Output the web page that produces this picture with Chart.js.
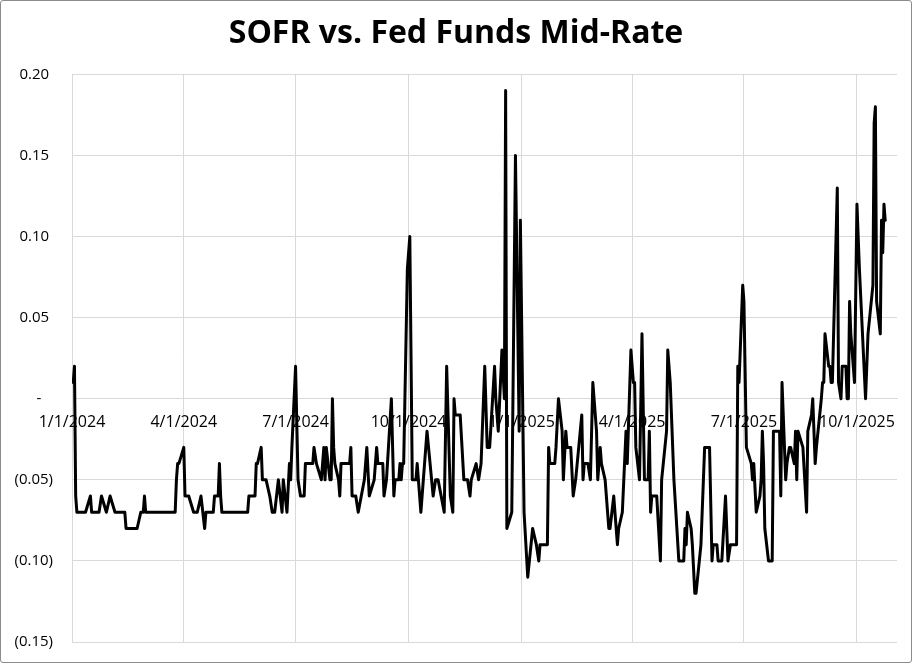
<!DOCTYPE html>
<html>
<head>
<meta charset="utf-8">
<script src="https://cdn.jsdelivr.net/npm/chart.js@4.4.1/dist/chart.umd.min.js"></script>
<style>
  body { margin: 0; background: #fff; }
  #wrap { width: 912px; height: 663px; box-sizing: border-box; border: 1px solid #8c8c8c; border-radius: 3px; overflow: hidden; }
  canvas { display: block; }
</style>
</head>
<body>
<div id="wrap"><canvas id="spreadChart" width="910" height="661"></canvas></div>
<script>
// SOFR minus Fed Funds mid-rate
const dates = [
    '2024-01-02', '2024-01-03', '2024-01-04', '2024-01-05', '2024-01-12', '2024-01-16', '2024-01-17', '2024-01-23',
    '2024-01-25', '2024-01-29', '2024-02-01', '2024-02-05', '2024-02-13', '2024-02-14', '2024-02-23', '2024-02-26',
    '2024-02-28', '2024-02-29', '2024-03-01', '2024-03-25', '2024-03-26', '2024-03-27', '2024-03-28', '2024-04-01',
    '2024-04-02', '2024-04-05', '2024-04-09', '2024-04-12', '2024-04-15', '2024-04-18', '2024-04-19', '2024-04-25',
    '2024-04-26', '2024-04-29', '2024-04-30', '2024-05-01', '2024-05-02', '2024-05-23', '2024-05-24', '2024-05-29',
    '2024-05-30', '2024-05-31', '2024-06-03', '2024-06-04', '2024-06-07', '2024-06-10', '2024-06-12', '2024-06-14',
    '2024-06-17', '2024-06-20', '2024-06-21', '2024-06-24', '2024-06-26', '2024-06-27', '2024-06-28', '2024-07-01',
    '2024-07-03', '2024-07-05', '2024-07-08', '2024-07-09', '2024-07-15', '2024-07-16', '2024-07-18', '2024-07-22',
    '2024-07-24', '2024-07-25', '2024-07-26', '2024-07-29', '2024-07-30', '2024-07-31', '2024-08-01', '2024-08-02',
    '2024-08-05', '2024-08-06', '2024-08-07', '2024-08-14', '2024-08-15', '2024-08-16', '2024-08-19', '2024-08-21',
    '2024-08-26', '2024-08-28', '2024-08-30', '2024-09-03', '2024-09-05', '2024-09-06', '2024-09-10', '2024-09-11',
    '2024-09-13', '2024-09-17', '2024-09-19', '2024-09-20', '2024-09-23', '2024-09-24', '2024-09-25', '2024-09-26',
    '2024-09-27', '2024-09-30', '2024-10-02', '2024-10-04', '2024-10-07', '2024-10-08', '2024-10-11', '2024-10-16',
    '2024-10-21', '2024-10-23', '2024-10-25', '2024-10-30', '2024-11-01', '2024-11-04', '2024-11-06', '2024-11-07',
    '2024-11-08', '2024-11-12', '2024-11-15', '2024-11-18', '2024-11-20', '2024-11-21', '2024-11-25', '2024-11-27',
    '2024-11-29', '2024-12-02', '2024-12-04', '2024-12-06', '2024-12-10', '2024-12-11', '2024-12-13', '2024-12-16',
    '2024-12-18', '2024-12-19', '2024-12-20', '2024-12-24', '2024-12-27', '2024-12-30', '2024-12-31',
    '2025-01-03', '2025-01-06', '2025-01-10', '2025-01-13', '2025-01-15', '2025-01-16', '2025-01-22', '2025-01-23',
    '2025-01-24', '2025-01-28', '2025-01-29', '2025-01-31', '2025-02-03', '2025-02-04', '2025-02-06', '2025-02-07',
    '2025-02-10', '2025-02-12', '2025-02-14', '2025-02-19', '2025-02-20', '2025-02-21', '2025-02-24', '2025-02-26',
    '2025-02-28', '2025-03-03', '2025-03-04', '2025-03-06', '2025-03-07', '2025-03-10', '2025-03-13', '2025-03-14',
    '2025-03-17', '2025-03-20', '2025-03-21', '2025-03-24', '2025-03-27', '2025-03-28', '2025-03-31', '2025-04-02',
    '2025-04-03', '2025-04-04', '2025-04-07', '2025-04-09', '2025-04-11', '2025-04-14', '2025-04-15', '2025-04-16',
    '2025-04-17', '2025-04-21', '2025-04-24', '2025-04-25', '2025-04-29', '2025-04-30', '2025-05-02', '2025-05-05',
    '2025-05-09', '2025-05-13', '2025-05-14', '2025-05-15', '2025-05-16', '2025-05-19', '2025-05-20', '2025-05-22',
    '2025-05-23', '2025-05-27', '2025-05-29', '2025-05-30', '2025-06-03', '2025-06-05', '2025-06-06', '2025-06-09',
    '2025-06-10', '2025-06-13', '2025-06-16', '2025-06-18', '2025-06-20', '2025-06-25', '2025-06-26', '2025-06-27',
    '2025-06-30', '2025-07-01', '2025-07-03', '2025-07-07', '2025-07-08', '2025-07-09', '2025-07-11', '2025-07-14',
    '2025-07-15', '2025-07-16', '2025-07-17', '2025-07-18', '2025-07-21', '2025-07-24', '2025-07-25', '2025-07-30',
    '2025-07-31', '2025-08-01', '2025-08-04', '2025-08-05', '2025-08-07', '2025-08-08', '2025-08-11', '2025-08-12',
    '2025-08-13', '2025-08-14', '2025-08-18', '2025-08-21', '2025-08-22', '2025-08-25', '2025-08-26', '2025-08-28',
    '2025-08-29', '2025-09-02', '2025-09-03', '2025-09-04', '2025-09-05', '2025-09-08', '2025-09-09', '2025-09-10',
    '2025-09-11', '2025-09-15', '2025-09-16', '2025-09-18', '2025-09-19', '2025-09-22', '2025-09-23', '2025-09-24',
    '2025-09-25', '2025-09-26', '2025-09-29', '2025-10-01', '2025-10-03', '2025-10-08', '2025-10-10', '2025-10-14',
    '2025-10-15', '2025-10-16', '2025-10-17', '2025-10-20', '2025-10-21', '2025-10-22', '2025-10-23', '2025-10-24'
];
const spread = [
    0.01, 0.02, -0.06, -0.07, -0.07, -0.06, -0.07, -0.07,
    -0.06, -0.07, -0.06, -0.07, -0.07, -0.08, -0.08, -0.07,
    -0.07, -0.06, -0.07, -0.07, -0.05, -0.04, -0.04, -0.03,
    -0.06, -0.06, -0.07, -0.07, -0.06, -0.08, -0.07, -0.07,
    -0.06, -0.06, -0.04, -0.06, -0.07, -0.07, -0.06, -0.06,
    -0.04, -0.04, -0.03, -0.05, -0.05, -0.06, -0.07, -0.07,
    -0.05, -0.07, -0.05, -0.07, -0.04, -0.05, -0.03, 0.02,
    -0.05, -0.06, -0.06, -0.04, -0.04, -0.03, -0.04, -0.05,
    -0.03, -0.05, -0.03, -0.05, -0.05, 0.00, -0.03, -0.04,
    -0.05, -0.06, -0.04, -0.04, -0.03, -0.06, -0.06, -0.07,
    -0.05, -0.03, -0.06, -0.05, -0.03, -0.04, -0.04, -0.06,
    -0.05, 0.00, -0.06, -0.05, -0.05, -0.04, -0.05, -0.04,
    -0.04, 0.08, 0.10, -0.05, -0.05, -0.04, -0.07, -0.02,
    -0.06, -0.05, -0.05, -0.07, 0.02, -0.06, -0.07, 0.00,
    -0.01, -0.01, -0.05, -0.05, -0.06, -0.05, -0.04, -0.05,
    -0.04, 0.02, -0.03, -0.03, 0.02, 0.00, -0.02, 0.03,
    0.00, 0.19, -0.08, -0.07, 0.15, -0.02, 0.11,
    -0.07, -0.11, -0.08, -0.09, -0.10, -0.09, -0.09, -0.03,
    -0.04, -0.04, -0.03, 0.00, -0.02, -0.05, -0.02, -0.03,
    -0.03, -0.06, -0.05, -0.01, -0.05, -0.04, -0.04, -0.05,
    0.01, -0.02, -0.05, -0.03, -0.04, -0.05, -0.08, -0.08,
    -0.06, -0.09, -0.08, -0.07, -0.02, -0.04, 0.03, 0.01,
    0.01, -0.03, -0.05, 0.04, -0.05, -0.05, -0.02, -0.07,
    -0.06, -0.06, -0.10, -0.05, -0.02, 0.03, 0.01, -0.05,
    -0.10, -0.10, -0.08, -0.09, -0.07, -0.08, -0.09, -0.12,
    -0.12, -0.09, -0.05, -0.03, -0.03, -0.10, -0.09, -0.09,
    -0.10, -0.10, -0.06, -0.10, -0.09, -0.09, 0.02, 0.01,
    0.07, 0.06, -0.03, -0.04, -0.05, -0.04, -0.07, -0.06,
    -0.05, -0.02, -0.04, -0.08, -0.10, -0.10, -0.02, -0.02,
    -0.06, 0.01, -0.05, -0.04, -0.03, -0.03, -0.04, -0.02,
    -0.05, -0.02, -0.03, -0.07, -0.02, -0.01, 0.00, -0.04,
    -0.03, 0.00, 0.01, 0.01, 0.04, 0.02, 0.02, 0.01,
    0.01, 0.13, 0.01, 0.00, 0.02, 0.02, 0.00, 0.00,
    0.06, 0.04, 0.01, 0.12, 0.08, 0.00, 0.04, 0.07,
    0.17, 0.18, 0.06, 0.04, 0.11, 0.09, 0.12, 0.11
];
// quarter starts shown on the date axis
const tickDates = ['2024-01-01', '2024-04-01', '2024-07-01', '2024-10-01', '2025-01-01', '2025-04-01', '2025-07-01', '2025-10-01'];

const DAY = 86400000;
const BASE = Date.UTC(2024, 0, 1);

function dayNum(s) {
    const p = s.split('-').map(Number);
    return (Date.UTC(p[0], p[1] - 1, p[2]) - BASE) / DAY;
}

function dayLabel(v) {
    const d = new Date(BASE + Math.round(v) * DAY);
    return (d.getUTCMonth() + 1) + '/' + d.getUTCDate() + '/' + d.getUTCFullYear();
}

// accounting style: (0.05) for negatives, dash for zero, trailing room on positives
function rateLabel(v) {
    const n = Math.round(v * 100);
    if (n === 0) return '-   ';
    const s = (Math.abs(n) / 100).toFixed(2);
    return n < 0 ? '(' + s + ')' : s + ' ';
}

const points = dates.map((d, i) => ({ x: dayNum(d), y: spread[i] }));

const ctx = document.getElementById('spreadChart').getContext('2d');
const spreadChart = new Chart(ctx, {
    type: 'line',
    data: {
        datasets: [{
            label: 'SOFR - Fed Funds Mid',
            data: points,
            borderColor: '#000000',
            borderWidth: 3,
            borderJoinStyle: 'round',
            borderCapStyle: 'round',
            pointRadius: 0,
            tension: 0,
            fill: false
        }]
    },
    options: {
        responsive: false,
        animation: false,
        layout: { padding: { left: 14, right: 14, top: 0, bottom: 20 } },
        plugins: {
            legend: { display: false },
            tooltip: { enabled: false },
            title: {
                display: true,
                text: 'SOFR vs. Fed Funds Mid-Rate',
                color: '#000000',
                font: { family: 'Open Sans', size: 32, weight: 'bold' },
                padding: { top: 14, bottom: 21 }
            }
        },
        scales: {
            x: {
                type: 'linear',
                position: { y: 0 },
                min: 0,
                max: 671.6,
                afterBuildTicks: scale => {
                    scale.ticks = tickDates.map(d => ({ value: dayNum(d) }));
                },
                // the axis sits on the zero line, so it takes no room at the bottom
                afterFit: scale => { scale.height = 0; },
                ticks: {
                    autoSkip: false,
                    maxRotation: 0,
                    padding: 14,
                    color: '#000000',
                    font: { family: 'Open Sans', size: 16 },
                    callback: v => dayLabel(v)
                },
                grid: { color: '#d9d9d9', lineWidth: 1, drawTicks: false },
                border: { display: true, color: '#d9d9d9' }
            },
            y: {
                min: -0.15,
                max: 0.20,
                afterFit: scale => {
                    scale.width = 57;
                    // only half a label of overflow above and below
                    scale.paddingTop = 10;
                    scale.paddingBottom = 10;
                },
                ticks: {
                    stepSize: 0.05,
                    padding: 19,
                    color: '#000000',
                    font: { family: 'Open Sans', size: 15 },
                    callback: v => rateLabel(v)
                },
                grid: { color: '#d9d9d9', lineWidth: 1, drawTicks: false },
                border: { display: false }
            }
        }
    }
});
</script>
</body>
</html>
